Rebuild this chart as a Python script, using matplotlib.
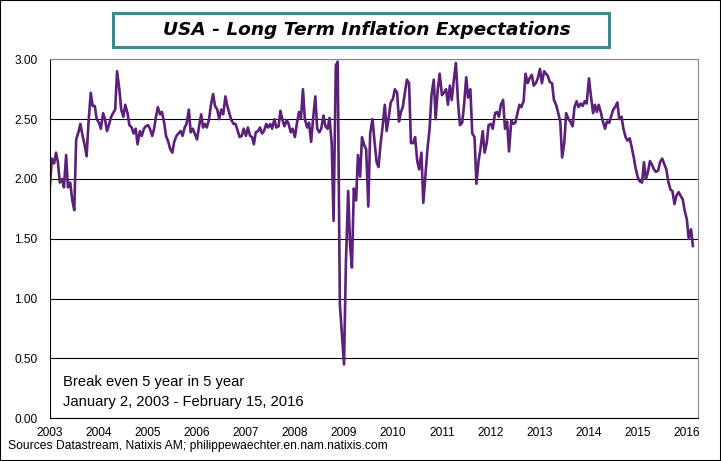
import pandas as pd
import matplotlib
matplotlib.use("Agg")
import matplotlib.pyplot as plt
from matplotlib.patches import Rectangle

# 5y5y breakeven at the 1st and 15th of each month
be_2003 = [1.95, 2.17, 2.13, 2.22, 2.14, 1.97, 2.00, 1.93, 2.20, 1.93, 1.97, 1.83,
           1.74, 2.33, 2.39, 2.46, 2.36, 2.29, 2.19, 2.47, 2.72, 2.61, 2.61, 2.50]
be_2004 = [2.47, 2.42, 2.55, 2.50, 2.40, 2.45, 2.52, 2.55, 2.58, 2.90, 2.75, 2.58,
           2.52, 2.62, 2.55, 2.45, 2.43, 2.38, 2.42, 2.29, 2.40, 2.36, 2.42, 2.44]
be_2005 = [2.45, 2.42, 2.36, 2.42, 2.52, 2.60, 2.54, 2.56, 2.47, 2.36, 2.31, 2.25,
           2.22, 2.31, 2.36, 2.38, 2.40, 2.36, 2.43, 2.46, 2.58, 2.39, 2.42, 2.38]
be_2006 = [2.33, 2.43, 2.54, 2.43, 2.46, 2.43, 2.50, 2.62, 2.71, 2.61, 2.58, 2.50,
           2.58, 2.54, 2.69, 2.61, 2.54, 2.49, 2.46, 2.46, 2.40, 2.35, 2.36, 2.42]
be_2007 = [2.36, 2.43, 2.36, 2.35, 2.29, 2.39, 2.40, 2.43, 2.38, 2.40, 2.46, 2.43,
           2.46, 2.42, 2.50, 2.43, 2.44, 2.57, 2.49, 2.44, 2.49, 2.46, 2.39, 2.42]
be_2008 = [2.35, 2.46, 2.56, 2.51, 2.75, 2.50, 2.43, 2.47, 2.31, 2.50, 2.69, 2.42,
           2.39, 2.42, 2.53, 2.44, 2.42, 2.51, 2.30, 1.65, 2.95, 2.98, 0.95, 0.72]
be_2009 = [0.45, 1.30, 1.90, 1.45, 1.26, 1.92, 1.82, 2.20, 2.02, 2.35, 2.28, 2.25,
           1.77, 2.38, 2.50, 2.33, 2.14, 2.10, 2.30, 2.43, 2.62, 2.40, 2.52, 2.64]
be_2010 = [2.67, 2.75, 2.72, 2.48, 2.56, 2.60, 2.73, 2.83, 2.80, 2.30, 2.30, 2.35,
           2.15, 2.08, 2.22, 1.80, 2.05, 2.25, 2.42, 2.70, 2.83, 2.50, 2.75, 2.88]
be_2011 = [2.70, 2.72, 2.75, 2.62, 2.78, 2.66, 2.84, 2.97, 2.64, 2.45, 2.47, 2.62,
           2.85, 2.68, 2.75, 2.38, 2.35, 1.96, 2.15, 2.25, 2.40, 2.22, 2.30, 2.45]
be_2012 = [2.46, 2.42, 2.55, 2.56, 2.52, 2.62, 2.66, 2.42, 2.48, 2.23, 2.49, 2.46,
           2.47, 2.54, 2.62, 2.60, 2.65, 2.88, 2.80, 2.84, 2.87, 2.78, 2.80, 2.84]
be_2013 = [2.92, 2.80, 2.90, 2.88, 2.86, 2.81, 2.80, 2.66, 2.62, 2.56, 2.48, 2.18,
           2.30, 2.55, 2.50, 2.48, 2.44, 2.60, 2.65, 2.60, 2.63, 2.61, 2.65, 2.63]
be_2014 = [2.84, 2.70, 2.55, 2.62, 2.56, 2.62, 2.55, 2.48, 2.42, 2.48, 2.47, 2.52,
           2.58, 2.60, 2.64, 2.50, 2.52, 2.42, 2.35, 2.32, 2.34, 2.27, 2.18, 2.09]
be_2015 = [2.01, 1.98, 1.97, 2.14, 2.00, 2.05, 2.15, 2.12, 2.08, 2.06, 2.07, 2.14,
           2.17, 2.13, 2.08, 1.98, 1.91, 1.90, 1.79, 1.86, 1.89, 1.86, 1.83, 1.74]
be_2016 = [1.66, 1.50, 1.58, 1.44]

years = list(range(2003, 2017))
y_ticks = [0.0, 0.5, 1.0, 1.5, 2.0, 2.5, 3.0]

series = (be_2003 + be_2004 + be_2005 + be_2006 + be_2007 + be_2008 + be_2009 +
          be_2010 + be_2011 + be_2012 + be_2013 + be_2014 + be_2015 + be_2016)
dates = pd.date_range("2003-01-01", "2016-02-15", freq="SMS")

W, H = 721, 461
fig = plt.figure(figsize=(W / 100, H / 100), dpi=100)
fig.patch.set_facecolor("white")

# outer frame and title box
fig.patches.append(Rectangle((0, 0), 1, 1, transform=fig.transFigure,
                             fill=False, edgecolor="black", lw=1.5))
fig.patches.append(Rectangle((113 / W, 1 - 47 / H), 496 / W, 34 / H,
                             transform=fig.transFigure, facecolor="white",
                             edgecolor="#3c8c8e", lw=2.2))
fig.text(367 / W, 1 - 30 / H, "USA - Long Term Inflation Expectations",
         ha="center", va="center", fontsize=13.3, fontweight="bold",
         fontstyle="italic", family="DejaVu Sans")

ax = fig.add_axes([50 / W, 1 - 418.3 / H, 648 / W, 359 / H])
ax.plot(dates, series, color="#5b2079", lw=1.9)

ax.set_ylim(0, 3)
ax.set_xlim(pd.Timestamp("2003-01-01"), pd.Timestamp("2016-03-24"))
ax.set_yticks(y_ticks)
ax.set_yticklabels(["%.2f" % v for v in y_ticks])
ax.set_xticks([pd.Timestamp("%d-01-01" % y) for y in years])
ax.set_xticklabels([str(y) for y in years])
ax.tick_params(length=0, labelsize=8.6)
ax.tick_params(axis="y", pad=9)
ax.tick_params(axis="x", pad=6)
for lab in ax.get_xticklabels() + ax.get_yticklabels():
    lab.set_family("Liberation Sans")

ax.yaxis.grid(True, color="black", lw=0.8)
ax.set_axisbelow(True)
for side in ["top", "right"]:
    ax.spines[side].set_color("#888888")
for side in ["left", "bottom"]:
    ax.spines[side].set_color("black")

ax.text(63 / W, 1 - 382 / H, "Break even 5 year in 5 year", transform=fig.transFigure,
        fontsize=10.6, family="Liberation Sans", va="center")
ax.text(63 / W, 1 - 402 / H, "January 2, 2003 - February 15, 2016", transform=fig.transFigure,
        fontsize=10.6, family="Liberation Sans", va="center")
fig.text(8 / W, 1 - 446 / H, "Sources Datastream, Natixis AM; philippewaechter.en.nam.natixis.com",
         fontsize=8.7, family="Liberation Sans", va="center")

fig.savefig("out.png", dpi=100)
